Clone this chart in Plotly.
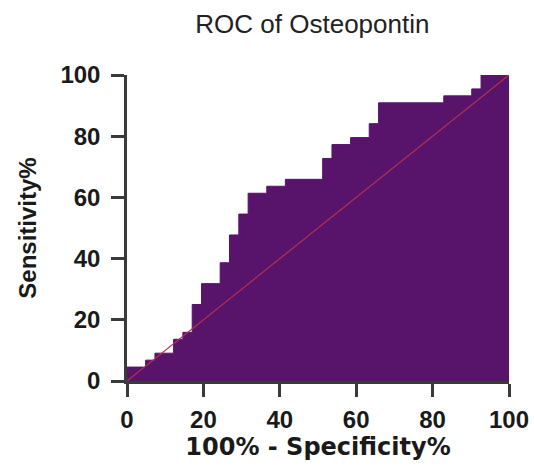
import plotly.graph_objects as go

# ROC curve steps (100% - Specificity%, Sensitivity%)
fpr = [0, 0, 4.88, 7.32, 12.20, 14.63, 17.07, 19.51, 24.39, 26.83, 29.27, 31.71,
       36.59, 41.46, 51.22, 53.66, 58.54, 63.41, 65.85, 82.93, 90.24, 92.68, 100]
sens = [0, 4.55, 6.82, 9.09, 13.64, 15.91, 25.00, 31.82, 38.64, 47.73, 54.55, 61.36,
        63.64, 65.91, 72.73, 77.27, 79.55, 84.09, 90.91, 93.18, 95.45, 100, 100]
ref_x = [0, 100]
ref_y = [0, 100]
tick_vals = [0, 20, 40, 60, 80, 100]

fill_col = "#57146a"

fig = go.Figure()
fig.add_trace(go.Scatter(x=fpr, y=sens, mode="lines", line=dict(shape="hv", color=fill_col, width=1),
                         fill="tozeroy", fillcolor=fill_col, showlegend=False))
fig.add_trace(go.Scatter(x=ref_x, y=ref_y, mode="lines", line=dict(color="#b5304e", width=1.2),
                         showlegend=False))

axis_common = dict(
    range=[0, 100], tickvals=tick_vals, showgrid=False, zeroline=False, automargin=False,
    showline=True, linecolor="#3a3a3a", linewidth=2.5,
    ticks="outside", ticklen=13, tickwidth=2.5, tickcolor="#3a3a3a",
    tickfont=dict(family="Arial, Liberation Sans", size=24, color="#1a1a1a", weight="bold"),
)

fig.update_layout(
    width=534, height=468,
    margin=dict(l=127, r=25, t=75, b=87, autoexpand=False),
    plot_bgcolor="white", paper_bgcolor="white",
    title=dict(text="ROC of Osteopontin", x=0.585, xanchor="center", y=0.95, yanchor="middle",
               font=dict(family="Arial, Liberation Sans", size=26, color="#222222")),
    xaxis=dict(**axis_common, ticklabelstandoff=2,
               title=dict(text="100% - Specificity%", standoff=4,
                          font=dict(family="DejaVu Sans", size=24, color="#1a1a1a", weight="bold"))),
    yaxis=dict(**axis_common, ticklabelstandoff=6,
               title=dict(text="Sensitivity%", standoff=18,
                          font=dict(family="Arial, Liberation Sans", size=24, color="#1a1a1a", weight="bold"))),
)

fig.write_html("out.html")
